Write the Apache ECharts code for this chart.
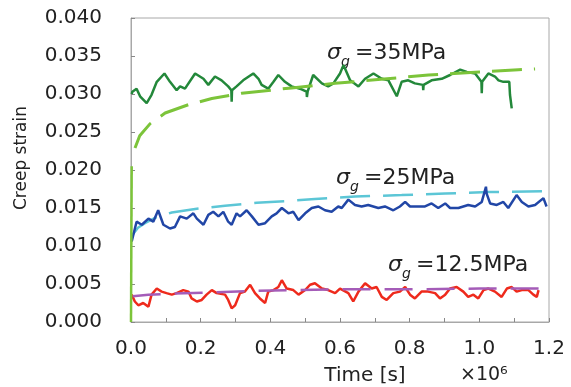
<!DOCTYPE html>
<html>
<head>
<meta charset="utf-8">
<script src="https://cdn.jsdelivr.net/npm/echarts@6/dist/echarts.min.js"></script>
<style>
  html, body { margin: 0; padding: 0; background: #fff; }
  #main { width: 571px; height: 387px; }
</style>
</head>
<body>
<div id="main"></div>
<script>
// time in units of 10^6 s, creep strain
var yTicks = [0, 0.04, 0.005];
var xTicks = [0, 1.2, 0.2];

// sigma_g = 35MPa, measured
var data35 = [[0.002,0.0300],[0.004,0.0303],[0.016,0.0307],[0.026,0.0297],[0.045,0.0288],[0.059,0.0299],[0.074,0.0316],[0.096,0.0327],[0.112,0.0316],[0.131,0.0305],[0.141,0.0310],[0.155,0.0307],[0.184,0.0327],[0.208,0.0320],[0.222,0.0312],[0.241,0.0323],[0.260,0.0318],[0.279,0.0310],[0.288,0.0305],[0.289,0.0290],[0.290,0.0305],[0.303,0.0310],[0.322,0.0318],[0.351,0.0327],[0.366,0.0320],[0.375,0.0312],[0.394,0.0307],[0.409,0.0316],[0.423,0.0325],[0.442,0.0316],[0.461,0.0310],[0.485,0.0307],[0.504,0.0303],[0.505,0.0296],[0.507,0.0303],[0.523,0.0325],[0.548,0.0314],[0.566,0.0310],[0.581,0.0314],[0.600,0.0327],[0.610,0.0338],[0.629,0.0318],[0.653,0.0310],[0.672,0.0320],[0.696,0.0327],[0.720,0.0320],[0.739,0.0318],[0.763,0.0297],[0.777,0.0316],[0.796,0.0318],[0.815,0.0314],[0.838,0.0312],[0.839,0.0305],[0.840,0.0312],[0.863,0.0318],[0.892,0.0320],[0.916,0.0325],[0.945,0.0332],[0.964,0.0329],[0.988,0.0327],[1.006,0.0316],[1.007,0.0301],[1.008,0.0316],[1.026,0.0327],[1.045,0.0323],[1.055,0.0318],[1.069,0.0316],[1.086,0.0316],[1.088,0.0299],[1.092,0.0299],[1.093,0.0281]];
// sigma_g = 35MPa, fit
var fit35Start = [[0,0],[0.002,0.0205]];
var fit35 = [[0.0115,0.0229],[0.025,0.0245],[0.055,0.0261],[0.098,0.0275],[0.165,0.0286],[0.232,0.0294],[0.318,0.0301],[0.461,0.0308],[0.586,0.0314],[0.709,0.0319],[0.854,0.0325],[1.000,0.0329],[1.112,0.0332],[1.160,0.0333]];

// sigma_g = 25MPa
var data25 = [[0.002,0.0106],[0.016,0.0132],[0.031,0.0128],[0.050,0.0136],[0.064,0.0132],[0.078,0.0147],[0.093,0.0128],[0.112,0.0123],[0.126,0.0125],[0.141,0.0139],[0.160,0.0136],[0.179,0.0143],[0.189,0.0136],[0.208,0.0128],[0.222,0.0141],[0.236,0.0145],[0.251,0.0139],[0.265,0.0145],[0.279,0.0132],[0.289,0.0128],[0.303,0.0143],[0.313,0.0139],[0.332,0.0147],[0.347,0.0139],[0.366,0.0128],[0.385,0.0130],[0.404,0.0139],[0.418,0.0143],[0.433,0.0150],[0.452,0.0143],[0.466,0.0145],[0.481,0.0134],[0.500,0.0143],[0.519,0.0150],[0.538,0.0152],[0.557,0.0147],[0.576,0.0145],[0.595,0.0152],[0.605,0.0150],[0.624,0.0161],[0.643,0.0154],[0.662,0.0152],[0.681,0.0154],[0.710,0.0150],[0.729,0.0152],[0.753,0.0147],[0.772,0.0152],[0.787,0.0158],[0.801,0.0152],[0.825,0.0152],[0.844,0.0152],[0.863,0.0156],[0.882,0.0150],[0.902,0.0156],[0.916,0.0150],[0.940,0.0150],[0.968,0.0154],[0.988,0.0152],[1.007,0.0158],[1.019,0.0178],[1.021,0.0169],[1.031,0.0156],[1.050,0.0154],[1.069,0.0158],[1.083,0.0150],[1.107,0.0167],[1.122,0.0158],[1.141,0.0152],[1.160,0.0154],[1.184,0.0163],[1.193,0.0152]];
var fit25 = [[0.005,0.0115],[0.020,0.0124],[0.040,0.0130],[0.074,0.0138],[0.117,0.0144],[0.189,0.0149],[0.270,0.0153],[0.361,0.0157],[0.442,0.0159],[0.528,0.0162],[0.643,0.0165],[0.777,0.0167],[0.902,0.0169],[1.026,0.0171],[1.190,0.0172]];

// sigma_g = 12.5MPa
var data12 = [[0.002,0.0036],[0.007,0.0038],[0.011,0.0027],[0.021,0.0022],[0.035,0.0025],[0.050,0.0020],[0.059,0.0036],[0.074,0.0044],[0.088,0.0040],[0.102,0.0038],[0.117,0.0036],[0.131,0.0038],[0.150,0.0042],[0.165,0.0040],[0.174,0.0031],[0.189,0.0027],[0.203,0.0029],[0.217,0.0036],[0.232,0.0042],[0.246,0.0038],[0.270,0.0036],[0.279,0.0029],[0.289,0.0018],[0.299,0.0022],[0.313,0.0038],[0.327,0.0040],[0.342,0.0049],[0.356,0.0038],[0.370,0.0031],[0.385,0.0025],[0.394,0.0040],[0.409,0.0042],[0.423,0.0046],[0.433,0.0055],[0.447,0.0044],[0.466,0.0042],[0.481,0.0036],[0.500,0.0042],[0.514,0.0049],[0.528,0.0051],[0.548,0.0044],[0.566,0.0042],[0.586,0.0038],[0.600,0.0044],[0.605,0.0044],[0.624,0.0038],[0.638,0.0027],[0.653,0.0040],[0.672,0.0051],[0.691,0.0044],[0.705,0.0046],[0.720,0.0033],[0.734,0.0029],[0.753,0.0038],[0.772,0.0040],[0.787,0.0046],[0.801,0.0036],[0.815,0.0031],[0.834,0.0040],[0.853,0.0040],[0.873,0.0038],[0.887,0.0031],[0.902,0.0036],[0.916,0.0044],[0.935,0.0046],[0.954,0.0040],[0.968,0.0033],[0.983,0.0036],[0.997,0.0031],[1.012,0.0042],[1.026,0.0044],[1.045,0.0040],[1.064,0.0033],[1.079,0.0044],[1.093,0.0046],[1.107,0.0040],[1.122,0.0042],[1.141,0.0042],[1.155,0.0036],[1.165,0.0033],[1.170,0.0042]];
var fit12 = [[0.005,0.0034],[0.050,0.0036],[0.102,0.0037],[0.229,0.0039],[0.356,0.0041],[0.480,0.0042],[0.586,0.0043],[0.800,0.0043],[1.000,0.0044],[1.197,0.0044]];

var FONT = 'DejaVu Sans';
var chart = echarts.init(document.getElementById('main'), null, {renderer: 'canvas'});

function line(data, color, width, dash) {
	return {
		type: 'line',
		data: data,
		symbol: 'none',
		silent: true,
		lineStyle: { color: color, width: width, type: dash || 'solid' }
	};
}

function label(x, y, text) {
	// sigma_g label: sigma, subscript g, rest
	return [
		{ type: 'text', x: x, y: y, style: { text: 'σ', font: 'italic 22px ' + FONT, fill: '#222', textVerticalAlign: 'middle' } },
		{ type: 'text', x: x + 14, y: y + 9, style: { text: 'g', font: 'italic 14px ' + FONT, fill: '#222', textVerticalAlign: 'middle' } },
		{ type: 'text', x: x + 28, y: y, style: { text: text, font: '22px ' + FONT, fill: '#222', textVerticalAlign: 'middle' } }
	];
}

var option = {
	animation: false,
	grid: {
		left: 131, right: 22, top: 18, bottom: 65,
		show: true, borderColor: '#a8a8a8', borderWidth: 1
	},
	xAxis: {
		type: 'value',
		min: xTicks[0], max: xTicks[1], interval: xTicks[2],
		axisLine: { lineStyle: { color: '#a8a8a8' } },
		axisTick: { inside: true, length: 4, lineStyle: { color: '#888' } },
		minorTick: { show: true, splitNumber: 2, length: 4, lineStyle: { color: '#888' } },
		splitLine: { show: false },
		axisLabel: {
			margin: 17, fontFamily: FONT, fontSize: 20, color: '#222',
			formatter: function (v) { return v.toFixed(1); }
		}
	},
	yAxis: {
		type: 'value',
		min: yTicks[0], max: yTicks[1], interval: yTicks[2],
		axisLine: { show: true, lineStyle: { color: '#a8a8a8' } },
		axisTick: { show: true, inside: true, length: 4, lineStyle: { color: '#888' } },
		splitLine: { show: false },
		axisLabel: {
			margin: 29, fontFamily: FONT, fontSize: 20, color: '#222',
			formatter: function (v) { return v.toFixed(3); }
		}
	},
	graphic: [
		{ type: 'text', x: 22, y: 158, rotation: Math.PI / 2,
			style: { text: 'Creep strain', font: '17px ' + FONT, fill: '#222', textAlign: 'center', textVerticalAlign: 'middle' } },
		{ type: 'text', x: 365, y: 376,
			style: { text: 'Time [s]', font: '20px ' + FONT, fill: '#222', textAlign: 'center', textVerticalAlign: 'middle' } },
		{ type: 'text', x: 460, y: 375,
			style: { text: '×10⁶', font: '19px ' + FONT, fill: '#222', textVerticalAlign: 'middle' } }
	].concat(label(327, 53, '=35MPa'), label(336, 178, '=25MPa'), label(388, 265, '=12.5MPa')),
	series: [
		line(fit25, '#5cc6d6', 2.5, [30, 13]),
		line(data25, '#2146a6', 2.5),
		line(data12, '#ee2a1c', 2.5),
		line(fit12, '#a45cb8', 2.5, [28, 14]),
		line(data35, '#23883a', 2.5),
		line(fit35Start, '#7cc43a', 2.5),
		line(fit35, '#7cc43a', 3, [30, 12])
	]
};
chart.setOption(option);
</script>
</body>
</html>
